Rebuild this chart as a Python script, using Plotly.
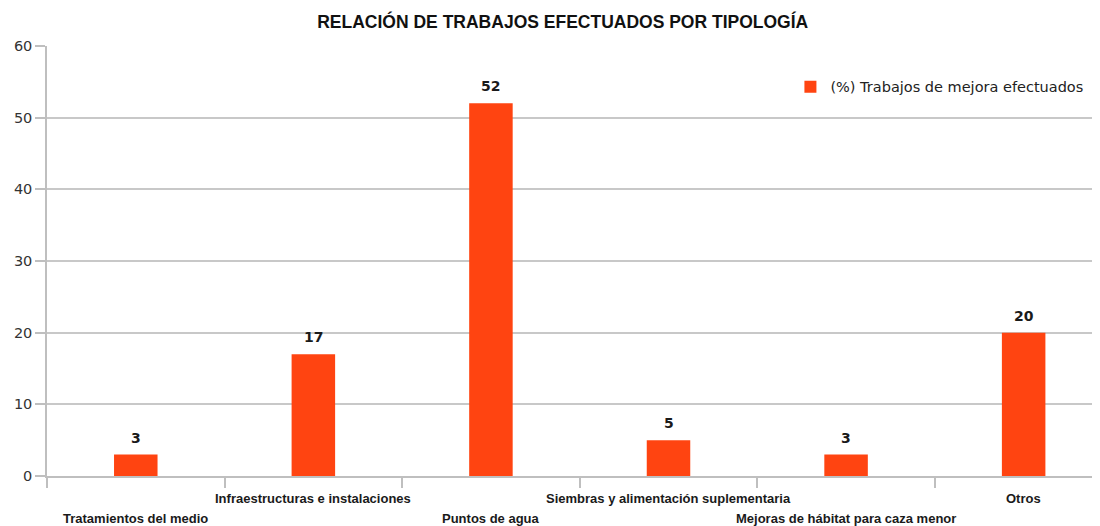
import plotly.graph_objects as go

categories = [
    "Tratamientos del medio",
    "Infraestructuras e instalaciones",
    "Puntos de agua",
    "Siembras y alimentación suplementaria",
    "Mejoras de hábitat para caza menor",
    "Otros",
]
values = [3, 17, 52, 5, 3, 20]
series_name = "(%) Trabajos de mejora efectuados"
title_text = "RELACIÓN DE TRABAJOS EFECTUADOS POR TIPOLOGÍA"

fig = go.Figure()
fig.add_trace(go.Bar(
    x=categories,
    y=values,
    name=series_name,
    marker=dict(color="#FF4411", line=dict(width=0)),
    width=0.245,
    showlegend=True,
))

# value labels above bars
for c, v in zip(categories, values):
    fig.add_annotation(
        x=c, xref="x", y=v, yref="y", yanchor="bottom", yshift=7,
        text=str(v), showarrow=False,
        font=dict(family="DejaVu Sans", size=14, color="#1a1a1a", weight="bold"),
    )

# staggered category labels (alternate rows), placed on the category axis
for i, c in enumerate(categories):
    fig.add_annotation(
        x=c, xref="x", y=0, yref="paper", yanchor="middle",
        yshift=-(42 if i % 2 == 0 else 22),
        text=c, showarrow=False,
        font=dict(family="Liberation Sans", size=13, color="#1a1a1a", weight="bold"),
    )

fig.update_layout(
    width=1092, height=518,
    margin=dict(l=39, r=0, t=38, b=50, autoexpand=False),
    paper_bgcolor="white", plot_bgcolor="white",
    title=dict(text="<b>" + title_text + "</b>", x=0.508, xanchor="center", y=0.973, yanchor="middle",
               font=dict(family="Liberation Sans", size=17.5, color="#111111")),
    legend=dict(x=0.706, y=0.905, xanchor="left", yanchor="middle", bgcolor="rgba(0,0,0,0)",
                font=dict(family="DejaVu Sans", size=14.5, color="#222222")),
    showlegend=True,
)
fig.update_xaxes(
    type="category", categoryorder="array", categoryarray=categories,
    range=[-0.5, 5.43], tickson="boundaries", ticks="outside", ticklen=10,
    tickcolor="#bfbfbf", tickwidth=1.5, showline=True, linecolor="#bfbfbf", linewidth=1.5,
    showgrid=False, showticklabels=False, automargin=False,
)
fig.update_yaxes(
    range=[0, 60], dtick=10, ticks="outside", ticklen=10, tickcolor="#bfbfbf", tickwidth=1.5,
    showline=True, linecolor="#bfbfbf", linewidth=1.5,
    showgrid=True, gridcolor="#c8c8c8", gridwidth=1.5, zeroline=False, automargin=False,
    tickfont=dict(family="DejaVu Sans", size=14.5, color="#333333"),
)

fig.write_html("out.html")
